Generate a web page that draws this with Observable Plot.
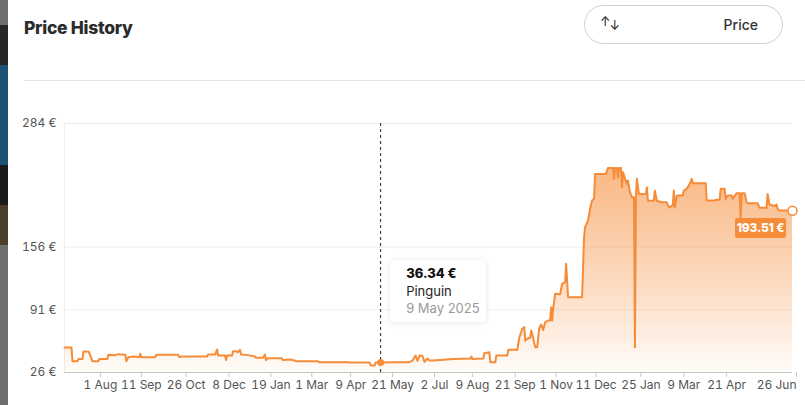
<!DOCTYPE html>
<html><head><meta charset="utf-8">
<script src="https://cdn.jsdelivr.net/npm/d3@7"></script>
<script src="https://cdn.jsdelivr.net/npm/@observablehq/plot@0.6"></script>
<style>
html,body{margin:0;padding:0;background:#fff;width:805px;height:405px;overflow:hidden;font-family:Inter,"Noto Sans",sans-serif;}
#wrap{position:relative;width:805px;height:405px;}
.strip{position:absolute;left:0;width:8px;}
#title{position:absolute;left:24px;top:17px;font-size:17.5px;font-weight:800;color:#2b2b2b;letter-spacing:-0.3px;}
#btn{position:absolute;left:584px;top:5px;width:197px;height:37px;border:1px solid #cfcfcf;border-radius:20px;box-sizing:content-box;}
#btn .ic{position:absolute;left:15px;top:8px;font-size:12.5px;color:#222;white-space:nowrap;}
#btn .ic .dn{position:relative;top:4px;margin-left:-1px;}
#btn .lbl{position:absolute;right:24px;top:10px;font-size:14px;font-weight:500;color:#333;}
#hr{position:absolute;left:24px;right:0;top:80px;height:1px;background:#e2e2e2;}
#chart{position:absolute;left:0;top:100px;}
#tip{position:absolute;width:96px;height:62px;background:#fff;border-radius:4px;box-shadow:0 1px 6px rgba(0,0,0,0.10);box-sizing:border-box;padding:5px 0 0 16px;font-size:13px;line-height:17.5px;}
#tip .p{font-weight:800;color:#111;}
#tip .s{color:#222;}
#tip .d{color:#9a9a9a;}
#endlbl{position:absolute;width:51px;height:20px;background:#f68c38;border-radius:2px;color:#fff;font-weight:800;font-size:12px;line-height:20px;text-align:center;letter-spacing:-0.2px;}
</style></head><body>
<div id="wrap">
  <div class="strip" style="top:0;height:25px;background:#6f6f6f"></div>
  <div class="strip" style="top:25px;height:40px;background:#262626"></div>
  <div class="strip" style="top:65px;height:100px;background:#1e5375"></div>
  <div class="strip" style="top:165px;height:40px;background:#1b1b1b"></div>
  <div class="strip" style="top:205px;height:40px;background:#4a3f2a"></div>
  <div class="strip" style="top:245px;height:160px;background:#6e6e6e"></div>
  <div id="title">Price History</div>
  <div id="btn"><span class="ic">↑<span class="dn">↓</span></span><span class="lbl">Price</span></div>
  <div id="hr"></div>
  <div id="chart"></div>
</div>
<script>
const dates = [
"2024-06-26","2024-07-03","2024-07-04","2024-07-09","2024-07-10","2024-07-14","2024-07-15","2024-07-20","2024-07-21","2024-07-24",
"2024-07-30","2024-07-31","2024-08-08","2024-08-09","2024-08-16","2024-08-19","2024-08-26","2024-08-27","2024-08-29","2024-09-03",
"2024-09-09","2024-09-10","2024-09-11","2024-09-25","2024-09-26","2024-10-18","2024-10-19","2024-10-22","2024-11-16","2024-11-17",
"2024-11-24","2024-11-26","2024-11-27","2024-12-04","2024-12-05","2024-12-06","2024-12-11","2024-12-12","2024-12-15","2024-12-17",
"2024-12-19","2024-12-20","2024-12-27","2025-01-03","2025-01-04","2025-01-11","2025-01-13","2025-01-14","2025-01-16","2025-01-30",
"2025-01-31","2025-02-07","2025-02-12","2025-02-13","2025-03-07","2025-03-08","2025-04-06","2025-04-08","2025-04-28","2025-04-29",
"2025-05-03","2025-05-04","2025-05-09","2025-05-23","2025-06-07","2025-06-10","2025-06-13","2025-06-15","2025-06-17","2025-06-20",
"2025-06-22","2025-06-25","2025-06-27","2025-07-01","2025-07-21","2025-08-07","2025-08-08","2025-08-09","2025-08-20","2025-08-21",
"2025-08-26","2025-08-27","2025-09-01","2025-09-02","2025-09-13","2025-09-14","2025-09-23","2025-09-25","2025-09-28","2025-09-30",
"2025-10-01","2025-10-03","2025-10-06","2025-10-07","2025-10-08","2025-10-11","2025-10-13","2025-10-15","2025-10-17","2025-10-19",
"2025-10-21","2025-10-24","2025-10-26","2025-10-27","2025-10-28","2025-10-29","2025-10-31","2025-11-05","2025-11-07","2025-11-10",
"2025-11-11","2025-11-13","2025-11-27","2025-11-29","2025-11-30","2025-12-03","2025-12-05","2025-12-07","2025-12-09","2025-12-10",
"2025-12-21","2025-12-23","2025-12-28","2025-12-29","2025-12-30","2026-01-01","2026-01-02","2026-01-03","2026-01-05","2026-01-06",
"2026-01-07","2026-01-11","2026-01-12","2026-01-14","2026-01-16","2026-01-18","2026-01-19","2026-01-20","2026-01-21","2026-01-23",
"2026-01-30","2026-01-31","2026-02-01","2026-02-07","2026-02-08","2026-02-10","2026-02-15","2026-02-20","2026-02-21","2026-02-23",
"2026-02-25","2026-02-26","2026-02-27","2026-02-28","2026-03-02","2026-03-08","2026-03-09","2026-03-12","2026-03-15","2026-03-17",
"2026-03-18","2026-03-31","2026-04-01","2026-04-09","2026-04-10","2026-04-14","2026-04-15","2026-04-19","2026-04-20","2026-04-22",
"2026-04-26","2026-04-27","2026-05-01","2026-05-04","2026-05-05","2026-05-06","2026-05-09","2026-05-11","2026-05-12","2026-05-22",
"2026-05-24","2026-05-31","2026-06-01","2026-06-03","2026-06-08","2026-06-10","2026-06-11","2026-06-13","2026-06-20","2026-06-26"
];
const prices = [
52,52,37.7,37.7,40,40,47.8,47.8,46,37.7,
37.7,40,40,44.3,44,45,44.3,37.7,41.9,42.5,
42,45.4,41.9,41.9,44.3,44.3,42,42.6,42.6,44.6,
44.6,49.8,43.6,43.6,39,43.6,43.6,48,48,47,
49.5,44.6,44,42.6,41.2,41.2,44.6,39,40.8,40.8,
39,39.5,38.5,37.7,37.7,36.7,36.7,36.4,36.4,33.3,
33.3,36.34,36.34,36.7,36.7,38.4,43.6,38,43.6,43,
37,40.5,38.4,38.4,40,40.5,42.6,40,40.5,46,
47,36.7,36.7,43.6,43.6,49.5,49.5,62,71.3,73,
59,61,62,69.5,66,52.2,52.2,71.6,75.7,70,
78,79.9,80,93.7,79.9,92.3,107.5,107,117.9,119.6,
138.6,104,104,166,176.5,183.5,195.6,204.2,206,231.8,
231.8,238,238,226.7,238,238,228,238,238,218,
233.5,221.5,225,212.8,207.6,207.6,52.2,209.4,226.7,211,
211,218,204,204,214.5,204,202.4,202.4,199,197,
199,199,214.5,197,209.4,209.4,214.5,216.3,221.5,226.7,
222,222,204.2,204.2,205,205,216.3,216.3,206,209.4,
209.4,206,211.8,211.8,186.9,211.8,211.8,202.4,201.4,201.4,
196.6,196.6,211,200,198.6,200,195.6,193.8,193.8,193.51
];
const yTicks = [26, 91, 156, 284];
const xTickDates = ["2024-08-01","2024-09-11","2024-10-26","2024-12-08","2025-01-19","2025-03-01","2025-04-09","2025-05-21","2025-07-02","2025-08-09","2025-09-21","2025-11-01","2025-12-11","2026-01-25","2026-03-09","2026-04-21","2026-06-26"];
const xDomainDates = ["2024-06-26","2026-06-26"];
const hover = {date: "2025-05-09", price: 36.34, shop: "Pinguin", label: "9 May 2025"};

const data = dates.map((d, i) => ({date: new Date(d), price: prices[i]}));
const xTicks = xTickDates.map(d => new Date(d));
const xDomain = xDomainDates.map(d => new Date(d));
const hoverPt = {date: new Date(hover.date), price: hover.price};
const last = data[data.length - 1];
const fmt = d3.utcFormat("%-d %b");
const orange = "#f68c38";

const chart = Plot.plot({
  width: 805, height: 305,
  marginTop: 23, marginBottom: 33, marginLeft: 64, marginRight: 13,
  style: {fontFamily: "Inter, 'Noto Sans', sans-serif", fontSize: "12px", color: "#555", background: "transparent", overflow: "visible"},
  x: {type: "utc", domain: xDomain},
  y: {domain: [yTicks[0], yTicks[yTicks.length - 1]]},
  marks: [
    Plot.gridY(yTicks.slice(1), {stroke: "#ededed", strokeOpacity: 1}),
    Plot.ruleX([xDomain[0]], {stroke: "#efefef"}),
    Plot.areaY(data, {x: "date", y1: yTicks[0], y2: "price", fill: "url(#priceGrad)"}),
    Plot.ruleY([yTicks[0]], {stroke: "#c6c6c6", strokeWidth: 1.2}),
    Plot.axisY(yTicks, {tickSize: 0, tickPadding: 8, tickFormat: d => `${d} €`, label: null}),
    Plot.axisX(xTicks.slice(0, -1), {tickSize: 5, tickPadding: 3, tickFormat: fmt, stroke: "#c6c6c6", label: null}),
    Plot.axisX(xTicks.slice(-1), {tickSize: 5, tickPadding: 3, tickFormat: fmt, stroke: "#c6c6c6", textAnchor: "end", dx: 4, label: null}),
    Plot.ruleX([hoverPt.date], {stroke: "#222", strokeDasharray: "3,3", strokeWidth: 1}),
    Plot.line(data, {x: "date", y: "price", stroke: orange, strokeWidth: 2, strokeLinejoin: "round"}),
    Plot.dot([hoverPt], {x: "date", y: "price", r: 3.5, fill: orange}),
    Plot.dot([last], {x: "date", y: "price", r: 4.5, fill: "white", stroke: orange, strokeWidth: 1.5})
  ]
});

d3.select(chart).insert("defs", ":first-child").html(
  `<linearGradient id="priceGrad" x1="0" y1="0" x2="0" y2="1">
     <stop offset="0%" stop-color="${orange}" stop-opacity="0.62"/>
     <stop offset="55%" stop-color="${orange}" stop-opacity="0.32"/>
     <stop offset="100%" stop-color="${orange}" stop-opacity="0.03"/>
   </linearGradient>`);

document.getElementById("chart").appendChild(chart);

const sx = chart.scale("x"), sy = chart.scale("y");
const top0 = 100;
const wrap = document.getElementById("wrap");

const tip = document.createElement("div");
tip.id = "tip";
tip.innerHTML = `<div class="p">${hover.price.toFixed(2)} €</div><div class="s">${hover.shop}</div><div class="d">${hover.label}</div>`;
tip.style.left = (sx.apply(hoverPt.date) + 10) + "px";
tip.style.top = (top0 + sy.apply(hoverPt.price) - 102) + "px";
wrap.appendChild(tip);

const lab = document.createElement("div");
lab.id = "endlbl";
lab.textContent = `${last.price.toFixed(2)} €`;
lab.style.left = (sx.apply(last.date) - 57) + "px";
lab.style.top = (top0 + sy.apply(last.price) + 8) + "px";
wrap.appendChild(lab);
</script>
</body></html>
